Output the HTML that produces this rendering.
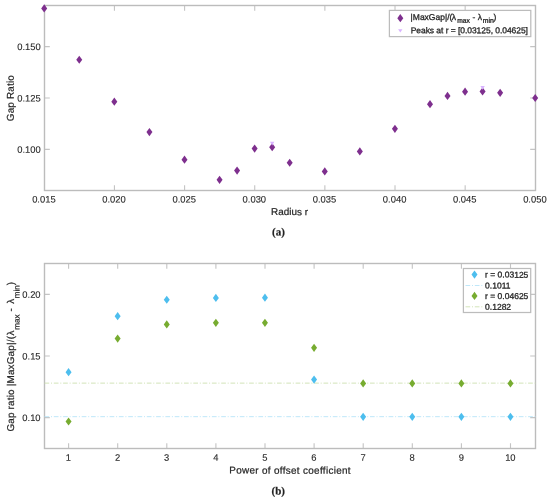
<!DOCTYPE html>
<html lang="en"><head><meta charset="utf-8"><title>Gap ratio figure</title>
<style>html,body{margin:0;padding:0;background:#fff}body{width:550px;height:499px;overflow:hidden}</style>
</head><body>
<svg width="550" height="499" viewBox="0 0 550 499" style="display:block">
<rect width="550" height="499" fill="#fff"/>
<g font-family="'Liberation Sans', Arial, Helvetica, sans-serif" fill="#262626">
<style>text{stroke:#262626;stroke-width:0.22px;stroke-linejoin:round}.tk text{stroke-width:0.1px}.lg text{stroke-width:0.3px}</style>
<g stroke="#c4c4c4" stroke-width="1.1" fill="none">
<path d="M114.44 190.5v-5.3M114.44 5.5v5.3"/>
<path d="M184.59 190.5v-5.3M184.59 5.5v5.3"/>
<path d="M254.73 190.5v-5.3M254.73 5.5v5.3"/>
<path d="M324.87 190.5v-5.3M324.87 5.5v5.3"/>
<path d="M395.01 190.5v-5.3M395.01 5.5v5.3"/>
<path d="M465.16 190.5v-5.3M465.16 5.5v5.3"/>
<path d="M44.5 149.39h5.3M535.5 149.39h-5.3"/>
<path d="M44.5 98.00h5.3M535.5 98.00h-5.3"/>
<path d="M44.5 46.61h5.3M535.5 46.61h-5.3"/>
</g>
<rect x="44.5" y="5.5" width="491.0" height="185.0" stroke="#bcbcbc" stroke-width="1.4" fill="none"/>
<g class="tk" font-size="9.4">
<text transform="translate(43.90 202.40) matrix(1 .001 0 1 0 0)" text-anchor="middle">0.015</text>
<text transform="translate(114.04 202.40) matrix(1 .001 0 1 0 0)" text-anchor="middle">0.020</text>
<text transform="translate(184.19 202.40) matrix(1 .001 0 1 0 0)" text-anchor="middle">0.025</text>
<text transform="translate(254.33 202.40) matrix(1 .001 0 1 0 0)" text-anchor="middle">0.030</text>
<text transform="translate(324.47 202.40) matrix(1 .001 0 1 0 0)" text-anchor="middle">0.035</text>
<text transform="translate(394.61 202.40) matrix(1 .001 0 1 0 0)" text-anchor="middle">0.040</text>
<text transform="translate(464.76 202.40) matrix(1 .001 0 1 0 0)" text-anchor="middle">0.045</text>
<text transform="translate(534.90 202.40) matrix(1 .001 0 1 0 0)" text-anchor="middle">0.050</text>
<text transform="translate(40.70 152.79) matrix(1 .001 0 1 0 0)" text-anchor="end">0.100</text>
<text transform="translate(40.70 101.40) matrix(1 .001 0 1 0 0)" text-anchor="end">0.125</text>
<text transform="translate(40.70 50.01) matrix(1 .001 0 1 0 0)" text-anchor="end">0.150</text>
</g>
<text transform="translate(271.00 215.10) matrix(1 .001 0 1 0 0)" font-size="9.9" textLength="37" lengthAdjust="spacing">Radius r</text>
<text transform="translate(13.70 121.20) rotate(-90) matrix(1 .001 0 1 0 0)" font-size="9.9" textLength="46" lengthAdjust="spacing">Gap Ratio</text>
<path d="M44.20 4.28L47.20 8.38L44.20 12.48L41.20 8.38Z" fill="#7E2F8E"/>
<path d="M79.27 55.67L82.27 59.77L79.27 63.87L76.27 59.77Z" fill="#7E2F8E"/>
<path d="M114.34 97.60L117.34 101.70L114.34 105.80L111.34 101.70Z" fill="#7E2F8E"/>
<path d="M149.41 128.02L152.41 132.12L149.41 136.22L146.41 132.12Z" fill="#7E2F8E"/>
<path d="M184.49 155.57L187.49 159.67L184.49 163.77L181.49 159.67Z" fill="#7E2F8E"/>
<path d="M219.56 175.71L222.56 179.81L219.56 183.91L216.56 179.81Z" fill="#7E2F8E"/>
<path d="M237.09 166.46L240.09 170.56L237.09 174.66L234.09 170.56Z" fill="#7E2F8E"/>
<path d="M254.63 144.47L257.63 148.57L254.63 152.67L251.63 148.57Z" fill="#7E2F8E"/>
<path d="M272.16 143.03L275.16 147.13L272.16 151.23L269.16 147.13Z" fill="#7E2F8E"/>
<path d="M289.70 158.65L292.70 162.75L289.70 166.85L286.70 162.75Z" fill="#7E2F8E"/>
<path d="M324.77 167.28L327.77 171.38L324.77 175.48L321.77 171.38Z" fill="#7E2F8E"/>
<path d="M359.84 147.34L362.84 151.44L359.84 155.54L356.84 151.44Z" fill="#7E2F8E"/>
<path d="M394.91 124.73L397.91 128.83L394.91 132.93L391.91 128.83Z" fill="#7E2F8E"/>
<path d="M429.99 100.07L432.99 104.17L429.99 108.27L426.99 104.17Z" fill="#7E2F8E"/>
<path d="M447.52 91.84L450.52 95.94L447.52 100.04L444.52 95.94Z" fill="#7E2F8E"/>
<path d="M465.06 87.53L468.06 91.63L465.06 95.73L462.06 91.63Z" fill="#7E2F8E"/>
<path d="M482.59 87.32L485.59 91.42L482.59 95.52L479.59 91.42Z" fill="#7E2F8E"/>
<path d="M500.13 88.76L503.13 92.86L500.13 96.96L497.13 92.86Z" fill="#7E2F8E"/>
<path d="M535.20 93.90L538.20 98.00L535.20 102.10L532.20 98.00Z" fill="#7E2F8E"/>
<path d="M269.96 141.73L274.36 141.73L272.16 145.53Z" fill="#d9b3ff"/>
<path d="M480.39 86.02L484.79 86.02L482.59 89.82Z" fill="#d9b3ff"/>
<rect x="389.4" y="10.4" width="141.4" height="26.2" fill="#fff" stroke="#bcbcbc" stroke-width="1.25"/>
<path d="M400.30 14.10L403.30 18.20L400.30 22.30L397.30 18.20Z" fill="#7E2F8E"/>
<path d="M398.15 29.20L402.45 29.20L400.30 32.60Z" fill="#d9b3ff"/>
<g class="lg" font-size="8.5">
<text transform="translate(410.60 19.90) matrix(1 .001 0 1 0 0)"><tspan x="0">|MaxGap|/(</tspan><tspan x="41.1">λ</tspan><tspan x="46.6" dy="2.8" font-size="6.7">max</tspan><tspan x="61.8" dy="-2.8">-</tspan><tspan x="67.1">λ</tspan><tspan x="72.1" dy="2.8" font-size="6.9">min</tspan><tspan x="82.9" dy="-2.8">)</tspan></text>
<text transform="translate(410.70 33.20) matrix(1 .001 0 1 0 0)" textLength="117.3" lengthAdjust="spacing">Peaks at r = [0.03125, 0.04625]</text>
</g>
<g stroke="#c4c4c4" stroke-width="1.1" fill="none">
<path d="M68.60 448.5v-5.3M68.60 263.5v5.3"/>
<path d="M117.70 448.5v-5.3M117.70 263.5v5.3"/>
<path d="M166.80 448.5v-5.3M166.80 263.5v5.3"/>
<path d="M215.90 448.5v-5.3M215.90 263.5v5.3"/>
<path d="M265.00 448.5v-5.3M265.00 263.5v5.3"/>
<path d="M314.10 448.5v-5.3M314.10 263.5v5.3"/>
<path d="M363.20 448.5v-5.3M363.20 263.5v5.3"/>
<path d="M412.30 448.5v-5.3M412.30 263.5v5.3"/>
<path d="M461.40 448.5v-5.3M461.40 263.5v5.3"/>
<path d="M510.50 448.5v-5.3M510.50 263.5v5.3"/>
<path d="M44.5 417.67h5.3M535.5 417.67h-5.3"/>
<path d="M44.5 356.00h5.3M535.5 356.00h-5.3"/>
<path d="M44.5 294.33h5.3M535.5 294.33h-5.3"/>
</g>
<rect x="44.5" y="263.5" width="491.0" height="185.0" stroke="#bcbcbc" stroke-width="1.4" fill="none"/>
<path d="M44.5 416.66H535.5" stroke="#b4e3f8" stroke-width="0.85" stroke-dasharray="4.7 1.8 1 1.8" fill="none"/>
<path d="M44.5 383.14H535.5" stroke="#cadfac" stroke-width="0.85" stroke-dasharray="4.7 1.8 1 1.8" fill="none"/>
<g class="tk" font-size="9.4">
<text transform="translate(68.45 460.80) matrix(1 .001 0 1 0 0)" text-anchor="middle">1</text>
<text transform="translate(117.55 460.80) matrix(1 .001 0 1 0 0)" text-anchor="middle">2</text>
<text transform="translate(166.65 460.80) matrix(1 .001 0 1 0 0)" text-anchor="middle">3</text>
<text transform="translate(215.75 460.80) matrix(1 .001 0 1 0 0)" text-anchor="middle">4</text>
<text transform="translate(264.85 460.80) matrix(1 .001 0 1 0 0)" text-anchor="middle">5</text>
<text transform="translate(313.95 460.80) matrix(1 .001 0 1 0 0)" text-anchor="middle">6</text>
<text transform="translate(363.05 460.80) matrix(1 .001 0 1 0 0)" text-anchor="middle">7</text>
<text transform="translate(412.15 460.80) matrix(1 .001 0 1 0 0)" text-anchor="middle">8</text>
<text transform="translate(461.25 460.80) matrix(1 .001 0 1 0 0)" text-anchor="middle">9</text>
<text transform="translate(510.35 460.80) matrix(1 .001 0 1 0 0)" text-anchor="middle">10</text>
<text transform="translate(40.60 421.07) matrix(1 .001 0 1 0 0)" text-anchor="end">0.10</text>
<text transform="translate(40.60 359.40) matrix(1 .001 0 1 0 0)" text-anchor="end">0.15</text>
<text transform="translate(40.60 297.73) matrix(1 .001 0 1 0 0)" text-anchor="end">0.20</text>
</g>
<text transform="translate(229.30 473.60) matrix(1 .001 0 1 0 0)" font-size="9.9" textLength="121.3" lengthAdjust="spacing">Power of offset coefficient</text>
<text transform="translate(13.90 431.60) rotate(-90) matrix(1 .001 0 1 0 0)" font-size="9.9"><tspan x="0" textLength="95.6" lengthAdjust="spacing">Gap ratio |MaxGap|/(</tspan><tspan x="96.0">λ</tspan><tspan x="101.9" dy="5.4" font-size="8">max</tspan><tspan x="120.1" dy="-5.4">-</tspan><tspan x="127.8">λ</tspan><tspan x="133.4" dy="5.4" font-size="8">min</tspan><tspan x="146.3" dy="-5.4">)</tspan></text>
<path d="M68.55 368.06L71.55 372.16L68.55 376.26L65.55 372.16Z" fill="#4DBEEE"/>
<path d="M117.65 312.07L120.65 316.17L117.65 320.27L114.65 316.17Z" fill="#4DBEEE"/>
<path d="M166.75 295.67L169.75 299.77L166.75 303.87L163.75 299.77Z" fill="#4DBEEE"/>
<path d="M215.85 293.82L218.85 297.92L215.85 302.02L212.85 297.92Z" fill="#4DBEEE"/>
<path d="M264.95 293.57L267.95 297.67L264.95 301.77L261.95 297.67Z" fill="#4DBEEE"/>
<path d="M314.05 375.46L317.05 379.56L314.05 383.66L311.05 379.56Z" fill="#4DBEEE"/>
<path d="M363.15 412.71L366.15 416.81L363.15 420.91L360.15 416.81Z" fill="#4DBEEE"/>
<path d="M412.25 412.71L415.25 416.81L412.25 420.91L409.25 416.81Z" fill="#4DBEEE"/>
<path d="M461.35 412.71L464.35 416.81L461.35 420.91L458.35 416.81Z" fill="#4DBEEE"/>
<path d="M510.45 412.71L513.45 416.81L510.45 420.91L507.45 416.81Z" fill="#4DBEEE"/>
<path d="M68.55 417.40L71.55 421.50L68.55 425.60L65.55 421.50Z" fill="#77AC30"/>
<path d="M117.65 334.52L120.65 338.62L117.65 342.72L114.65 338.62Z" fill="#77AC30"/>
<path d="M166.75 320.33L169.75 324.43L166.75 328.53L163.75 324.43Z" fill="#77AC30"/>
<path d="M215.85 318.73L218.85 322.83L215.85 326.93L212.85 322.83Z" fill="#77AC30"/>
<path d="M264.95 318.73L267.95 322.83L264.95 326.93L261.95 322.83Z" fill="#77AC30"/>
<path d="M314.05 343.77L317.05 347.87L314.05 351.97L311.05 347.87Z" fill="#77AC30"/>
<path d="M363.15 379.29L366.15 383.39L363.15 387.49L360.15 383.39Z" fill="#77AC30"/>
<path d="M412.25 379.29L415.25 383.39L412.25 387.49L409.25 383.39Z" fill="#77AC30"/>
<path d="M461.35 379.29L464.35 383.39L461.35 387.49L458.35 383.39Z" fill="#77AC30"/>
<path d="M510.45 379.29L513.45 383.39L510.45 387.49L507.45 383.39Z" fill="#77AC30"/>
<rect x="463.4" y="268.5" width="67.3" height="44" fill="#fff" stroke="#bcbcbc" stroke-width="1.25"/>
<path d="M474.50 270.50L477.50 274.60L474.50 278.70L471.50 274.60Z" fill="#4DBEEE"/>
<path d="M465.5 285.5H482.7" stroke="#b4e3f8" stroke-width="0.85" stroke-dasharray="4.7 1.8 1 1.8" fill="none"/>
<path d="M474.50 291.80L477.50 295.90L474.50 300.00L471.50 295.90Z" fill="#77AC30"/>
<path d="M465.5 306.8H482.7" stroke="#cadfac" stroke-width="0.85" stroke-dasharray="4.7 1.8 1 1.8" fill="none"/>
<g class="lg" font-size="8.5">
<text transform="translate(485.10 277.60) matrix(1 .001 0 1 0 0)">r = 0.03125</text>
<text transform="translate(485.10 288.50) matrix(1 .001 0 1 0 0)">0.1011</text>
<text transform="translate(485.10 298.90) matrix(1 .001 0 1 0 0)">r = 0.04625</text>
<text transform="translate(485.10 309.80) matrix(1 .001 0 1 0 0)">0.1282</text>
</g>
</g>
<g font-family="'Liberation Serif', 'Times New Roman', serif" font-size="11" font-weight="bold" fill="#222">
<text transform="translate(278.40 235.60) matrix(1 .001 0 1 0 0)" text-anchor="middle">(a)</text>
<text transform="translate(278.30 494.40) matrix(1 .001 0 1 0 0)" text-anchor="middle">(b)</text>
</g>
</svg>
</body></html>
